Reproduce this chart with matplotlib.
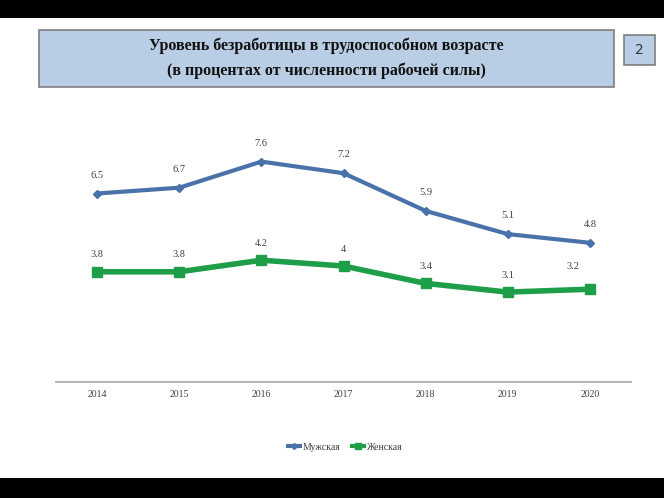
import matplotlib.pyplot as plt
from matplotlib.patches import Rectangle
from matplotlib.lines import Line2D

years = ['2014', '2015', '2016', '2017', '2018', '2019', '2020']
male = [6.5, 6.7, 7.6, 7.2, 5.9, 5.1, 4.8]
female = [3.8, 3.8, 4.2, 4, 3.4, 3.1, 3.2]
male_labels = ['6.5', '6.7', '7.6', '7.2', '5.9', '5.1', '4.8']
female_labels = ['3.8', '3.8', '4.2', '4', '3.4', '3.1', '3.2']

W, H = 664, 498
fig = plt.figure(figsize=(W / 100, H / 100), dpi=100)
fig.patch.set_facecolor('white')

# black bands top and bottom
fig.add_artist(Rectangle((0, 1 - 18 / H), 1, 18 / H, transform=fig.transFigure,
                         facecolor='black', edgecolor='none'))
fig.add_artist(Rectangle((0, 0), 1, 20 / H, transform=fig.transFigure,
                         facecolor='black', edgecolor='none'))

# title box
fig.add_artist(Rectangle((39 / W, 1 - 87 / H), (614 - 39) / W, (87 - 30) / H,
                         transform=fig.transFigure, facecolor='#b9cde5',
                         edgecolor='#7f7f7f', linewidth=1.2))
fig.text(326 / W, 1 - 46 / H, 'Уровень безработицы в трудоспособном возрасте',
         ha='center', va='center', fontsize=11.5, fontweight='bold',
         family='Liberation Serif', color='#111111')
fig.text(326 / W, 1 - 71 / H, '(в процентах от численности рабочей силы)',
         ha='center', va='center', fontsize=11.5, fontweight='bold',
         family='Liberation Serif', color='#111111')

# page number box
fig.add_artist(Rectangle((624 / W, 1 - 65 / H), 31 / W, 30 / H,
                         transform=fig.transFigure, facecolor='#b9cde5',
                         edgecolor='#7f7f7f', linewidth=1.2))
fig.text(639.5 / W, 1 - 50 / H, '2', ha='center', va='center', fontsize=10,
         family='DejaVu Sans', color='#333344')

# chart
ax = fig.add_axes([56 / W, 116 / H, 575 / W, 246.5 / H])
x = list(range(len(years)))
ax.plot(x, male, color='#4a72aa', linewidth=3, marker='D', markersize=4,
        solid_capstyle='round', zorder=3)
ax.plot(x, female, color='#1e9e48', linewidth=4, marker='s', markersize=7,
        zorder=3)
ax.set_xlim(-0.5, 6.5)
ax.set_ylim(0, 8.5)

for i, (v, t) in enumerate(zip(male, male_labels)):
    ax.annotate(t, (i, v), xytext=(0, 10), textcoords='offset points',
                ha='center', va='bottom', fontsize=7.5, family='Liberation Serif',
                color='#404040')
for i, (v, t) in enumerate(zip(female, female_labels)):
    dx = -12 if i == 6 else 0
    dy = 13 if i == 6 else 9
    ax.annotate(t, (i, v), xytext=(dx, dy), textcoords='offset points',
                ha='center', va='bottom', fontsize=7.5, family='Liberation Serif',
                color='#404040')

for s in ['top', 'right', 'left']:
    ax.spines[s].set_visible(False)
ax.spines['bottom'].set_color('#a6a6a6')
ax.spines['bottom'].set_linewidth(1.2)
ax.set_yticks([])
ax.set_xticks(x)
ax.set_xticklabels(years, fontsize=7, family='Liberation Serif', color='#404040')
ax.tick_params(axis='x', length=0, pad=6)

handles = [Line2D([], [], color='#4a72aa', linewidth=3, marker='D', markersize=3),
           Line2D([], [], color='#1e9e48', linewidth=3, marker='s', markersize=5)]
fig.legend(handles, ['Мужская', 'Женская'], loc='center',
           bbox_to_anchor=(345 / W, 1 - 447 / H), ncol=2, frameon=False,
           prop={'family': 'Liberation Serif', 'size': 7}, handlelength=1.2,
           handletextpad=0.3, columnspacing=1.2, labelcolor='#404040')

fig.savefig('out.png', dpi=100, facecolor='white')
